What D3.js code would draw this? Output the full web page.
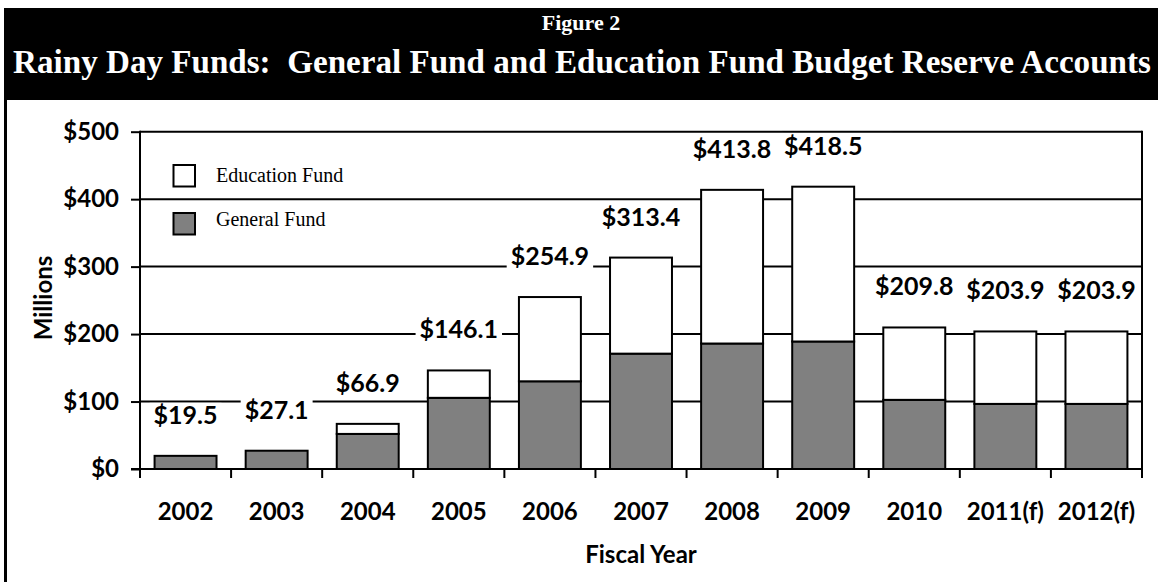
<!DOCTYPE html>
<html>
<head>
<meta charset="utf-8">
<script src="https://cdn.jsdelivr.net/npm/d3@7"></script>
<style>
  html, body { margin: 0; padding: 0; background: #fff; }
  svg { display: block; }
</style>
</head>
<body>
<svg id="chart" width="1163" height="582"></svg>
<script>
// Fiscal years on the x axis
const years = ["2002", "2003", "2004", "2005", "2006", "2007", "2008", "2009", "2010", "2011(f)", "2012(f)"];
// Reserve balances, $ millions
const generalFund   = [19.5, 27.1, 52.0, 105.5, 130.0, 171.0, 186.0, 189.0, 102.5, 96.5, 96.5];
const educationFund = [0.0, 0.0, 14.9, 40.6, 124.9, 142.4, 227.8, 229.5, 107.3, 107.4, 107.4];
// Y axis ticks
const yTicks = [0, 100, 200, 300, 400, 500];
const seriesNames = ["Education Fund", "General Fund"];

const svg = d3.select("#chart");
const W = 1163, H = 582;

const plot = { left: 140, right: 1142, top: 131.7, bottom: 469 };

const x = d3.scaleBand().domain(years).range([plot.left, plot.right]).padding(0);
const y = d3.scaleLinear().domain([0, 500]).range([plot.bottom, plot.top]);
const barW = x.bandwidth() * 0.68;

const labelFont = "Lato, 'Open Sans', sans-serif";
const serif = "'Liberation Serif', 'DejaVu Serif', serif";

// Title band
svg.append("rect").attr("x", 4).attr("y", 8).attr("width", 1154).attr("height", 92).attr("fill", "#000");
svg.append("text").attr("x", 581).attr("y", 30).attr("text-anchor", "middle")
  .attr("font-family", serif).attr("font-weight", "bold").attr("font-size", 22).attr("fill", "#fff")
  .text("Figure 2");
const title = svg.append("text").attr("x", 582).attr("y", 73).attr("text-anchor", "middle")
  .attr("font-family", serif).attr("font-weight", "bold").attr("font-size", 33).attr("fill", "#fff")
  .style("white-space", "pre")
  .text("Rainy Day Funds:  General Fund and Education Fund Budget Reserve Accounts");
// keep the title line across the band width
const tw = title.node().getComputedTextLength();
if (tw > 0) title.attr("font-size", 33 * 1138 / tw);

// Left frame line under the title band
svg.append("line").attr("x1", 5.5).attr("x2", 5.5).attr("y1", 98).attr("y2", H)
  .attr("stroke", "#000").attr("stroke-width", 3);

// Horizontal gridlines
svg.append("g").selectAll("line").data(yTicks.filter(d => d > 0)).join("line")
  .attr("x1", plot.left).attr("x2", plot.right)
  .attr("y1", d => y(d)).attr("y2", d => y(d))
  .attr("stroke", "#000").attr("stroke-width", 2);

// Right frame of the plot area
svg.append("line").attr("x1", plot.right).attr("x2", plot.right)
  .attr("y1", y(500) - 1).attr("y2", y(0))
  .attr("stroke", "#000").attr("stroke-width", 2);

// Stacked bars
const stackData = years.map((yr, i) => ({ year: yr, general: generalFund[i], education: educationFund[i] }));
const stacked = d3.stack().keys(["general", "education"])(stackData);
const fills = { general: "#808080", education: "#ffffff" };

svg.append("g").selectAll("g").data(stacked).join("g")
  .attr("fill", d => fills[d.key])
  .selectAll("rect").data(d => d.filter(s => s[1] - s[0] > 0)).join("rect")
  .attr("x", d => x(d.data.year) + (x.bandwidth() - barW) / 2)
  .attr("width", barW)
  .attr("y", d => y(d[1]))
  .attr("height", d => y(d[0]) - y(d[1]))
  .attr("stroke", "#000").attr("stroke-width", 2);

// Value labels with white backing boxes
const totals = stackData.map(d => d.general + d.education);
const lg = svg.append("g");
stackData.forEach((d, i) => {
  const cx = x(d.year) + x.bandwidth() / 2;
  const base = y(totals[i]) - 32;
  const t = lg.append("text").attr("x", cx).attr("y", base).attr("text-anchor", "middle")
    .attr("font-family", labelFont).attr("font-weight", "bold").attr("font-size", 25).attr("fill", "#000")
    .text("$" + totals[i].toFixed(1));
  const w = t.node().getComputedTextLength();
  lg.insert("rect", "text").attr("x", cx - w / 2 - 4).attr("y", base - 21).attr("width", w + 8).attr("height", 24)
    .attr("fill", "#fff");
});

// Y axis
const yAxis = svg.append("g").attr("transform", `translate(${plot.left},0)`)
  .call(d3.axisLeft(y).tickValues(yTicks).tickSize(9).tickPadding(12).tickFormat(d => "$" + d));
yAxis.select(".domain").attr("stroke", "#000").attr("stroke-width", 2).attr("d", `M0,${y(500) - 1}V${y(0) + 9}`);
yAxis.selectAll(".tick line").attr("stroke", "#000").attr("stroke-width", 2);
yAxis.selectAll(".tick text").attr("font-family", labelFont).attr("font-weight", "bold").attr("font-size", 24).attr("fill", "#000");

// X axis: ticks sit between categories
const xAxis = svg.append("g").attr("transform", `translate(0,${plot.bottom})`);
xAxis.append("line").attr("x1", plot.left - 9).attr("x2", plot.right).attr("y1", 0).attr("y2", 0)
  .attr("stroke", "#000").attr("stroke-width", 2);
const bounds = years.map(d => x(d)).concat([plot.right]);
xAxis.selectAll("line.tk").data(bounds).join("line").attr("class", "tk")
  .attr("x1", d => d).attr("x2", d => d).attr("y1", 0).attr("y2", 9)
  .attr("stroke", "#000").attr("stroke-width", 2);
xAxis.selectAll("text").data(years).join("text")
  .attr("x", d => x(d) + x.bandwidth() / 2).attr("y", 51).attr("text-anchor", "middle")
  .attr("font-family", labelFont).attr("font-weight", "bold").attr("font-size", 24).attr("fill", "#000")
  .text(d => d);

// Axis titles
svg.append("text").attr("x", (plot.left + plot.right) / 2).attr("y", 563).attr("text-anchor", "middle")
  .attr("font-family", labelFont).attr("font-weight", "bold").attr("font-size", 24).text("Fiscal Year");
svg.append("text").attr("transform", "translate(52,298) rotate(-90)").attr("text-anchor", "middle")
  .attr("font-family", labelFont).attr("font-weight", "bold").attr("font-size", 24).text("Millions");

// Legend
const legend = svg.append("g");
const legendRows = [
  { name: seriesNames[0], fill: fills.education, boxY: 165, textY: 182 },
  { name: seriesNames[1], fill: fills.general, boxY: 213, textY: 225.5 }
];
legendRows.forEach(r => {
  legend.append("rect").attr("x", 173.5).attr("y", r.boxY).attr("width", 21.5).attr("height", 21.5)
    .attr("fill", r.fill).attr("stroke", "#000").attr("stroke-width", 2);
  legend.append("text").attr("x", 216).attr("y", r.textY)
    .attr("font-family", serif).attr("font-size", 20).attr("fill", "#000").text(r.name);
});
</script>
</body>
</html>
